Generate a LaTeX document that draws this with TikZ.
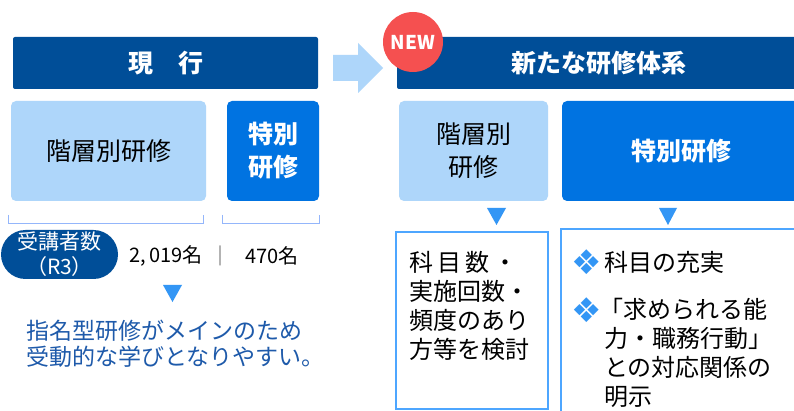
\documentclass[tikz,border=0pt]{standalone}
\usepackage{fontspec}
\setmainfont{Noto Sans CJK JP}
\newfontfamily\dingfont{DejaVu Sans}
\definecolor{hdrblue}{RGB}{0,78,152}
\definecolor{paleblue}{RGB}{174,214,250}
\definecolor{midblue}{RGB}{0,115,225}
\definecolor{lineblue}{RGB}{77,166,255}
\definecolor{triblue}{RGB}{51,150,245}
\definecolor{textblue}{RGB}{30,90,170}
\definecolor{badgered}{RGB}{245,80,80}
\newcommand{\fs}[2]{\fontsize{#1}{#2}\selectfont}
\begin{document}
\begin{tikzpicture}[x=1pt,y=-1pt,
  hdr/.style={fill=hdrblue,rounded corners=2pt,text=white,inner sep=0pt,font=\fs{25}{30}\bfseries},
  palebox/.style={fill=paleblue,rounded corners=5pt,inner sep=0pt,align=center,font=\fs{25}{33}},
  midbox/.style={fill=midblue,rounded corners=5pt,inner sep=0pt,align=center,text=white,font=\fs{25}{33}\bfseries},
  outbox/.style={draw=lineblue,line width=1.5pt},
  tri/.style={fill=triblue},
  bracket/.style={draw=paleblue!85!blue,line width=0.9pt},
  body/.style={inner sep=0pt,align=left,font=\fs{24}{29}},
  bullet/.style={inner sep=0pt,text=triblue,font=\dingfont\fs{34}{34}}]
\useasboundingbox (0,0) rectangle (794,411);
\fill[white] (0,0) rectangle (794,411);

% headers
\node[hdr,minimum width=305pt,minimum height=52pt] (nowhdr) at (165.5,63) {現　行};
\node[hdr,minimum width=403pt,minimum height=52pt] (newhdr) at (598.5,63) {新たな研修体系};
\fill[paleblue] (333,55) -- (358,55) -- (358,43) -- (383,68) -- (358,93) -- (358,81) -- (333,81) -- cycle;
\node[circle,fill=badgered,minimum size=60pt,inner sep=0pt,text=white,font=\fs{19}{19}\bfseries] (badge) at (413,42) {NEW};

% current system
\node[palebox,minimum width=195pt,minimum height=100pt] (kaisoL) at (108.5,151) {階層別研修};
\node[midbox,minimum width=92pt,minimum height=100pt] (tokuL) at (273,151) {特別\\研修};
\draw[bracket] (8,215) -- (8,223) -- (203,223) -- (203,215);
\draw[bracket] (222,215) -- (222,223) -- (319,223) -- (319,215);
\node[fill=hdrblue,rounded corners=24.5pt,minimum width=117pt,minimum height=49pt,inner sep=0pt,
      align=center,text=white,font=\fs{21}{25}] (juko) at (59.5,254.5) {受講者数\\（R3）};
\node[inner sep=0pt,font=\fs{20}{20}] (numL) at (166,256) {2,\,019名};
\node[inner sep=0pt,text=black!70,font=\fs{20}{20}] (sep) at (220,256) {｜};
\node[inner sep=0pt,font=\fs{20}{20}] (numR) at (272,256) {470名};
\fill[tri] (163,285) -- (182,285) -- (172.5,302) -- cycle;
\node[inner sep=0pt,anchor=north west,align=left,text=textblue,font=\fs{23}{26}] (note) at (26,320)
  {指名型研修がメインのため\\受動的な学びとなりやすい。};

% new system
\node[palebox,minimum width=149pt,minimum height=100pt] (kaisoR) at (473.5,151) {階層別\\研修};
\node[midbox,minimum width=238pt,minimum height=100pt] (tokuR) at (681,151) {特別研修};
\fill[tri] (487,208) -- (506,208) -- (496.5,225) -- cycle;
\fill[tri] (659,208) -- (677,208) -- (668,225) -- cycle;
\draw[outbox] (396,232) rectangle (548,409);
\draw[outbox] (561,229) rectangle (810,430);
\node[body,anchor=north west] (kentoL) at (409,251) {科\,目\,数\,・\\実施回数・\\頻度のあり\\方等を検討};
\node[bullet] (mk1) at (587,262) {❖};
\node[body,anchor=west] (item1) at (604,262) {科目の充実};
\node[bullet] (mk2) at (587,310) {❖};
\node[body,anchor=north west] (item2) at (604,298)
  {\hspace*{-0.2em}「求められる能\\力・職務行動」\\との対応関係の\\明示};
\end{tikzpicture}
\end{document}
